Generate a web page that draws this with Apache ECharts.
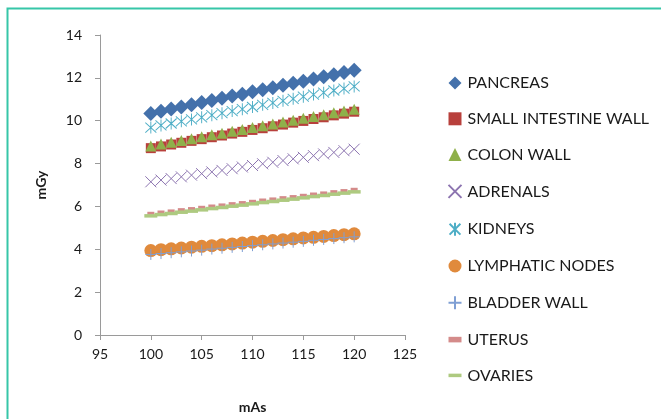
<!DOCTYPE html>
<html>
<head>
<meta charset="utf-8">
<script src="https://cdn.jsdelivr.net/npm/echarts@6/dist/echarts.min.js"></script>
<style>
  html, body { margin: 0; padding: 0; background: #ffffff; }
  #chart { width: 661px; height: 419px; }
</style>
</head>
<body>
<div id="chart"></div>
<script>
// Tube current-time product (mAs)
const mAs = [100,101,102,103,104,105,106,107,108,109,110,111,112,113,114,115,116,117,118,119,120];

// Organ doses (mGy)
const pancreas = [10.34,10.44,10.55,10.64,10.75,10.85,10.94,11.05,11.15,11.24,11.35,11.45,11.54,11.65,11.75,11.84,11.95,12.05,12.14,12.25,12.36];
const smallIntestineWall = [8.72,8.80,8.89,8.97,9.06,9.14,9.23,9.31,9.40,9.48,9.57,9.65,9.74,9.82,9.91,9.99,10.08,10.16,10.25,10.33,10.42];
const colonWall = [8.82,8.91,8.99,9.08,9.16,9.25,9.34,9.42,9.51,9.59,9.68,9.77,9.85,9.94,10.02,10.11,10.20,10.28,10.37,10.45,10.54];
const adrenals = [7.15,7.23,7.30,7.38,7.46,7.53,7.61,7.68,7.76,7.84,7.91,7.99,8.06,8.14,8.22,8.29,8.37,8.45,8.52,8.60,8.67];
const kidneys = [9.68,9.78,9.87,9.97,10.06,10.16,10.26,10.35,10.45,10.54,10.64,10.74,10.83,10.93,11.02,11.12,11.22,11.31,11.41,11.50,11.60];
const lymphaticNodes = [3.94,3.98,4.02,4.06,4.10,4.14,4.17,4.21,4.25,4.29,4.33,4.37,4.41,4.45,4.49,4.53,4.56,4.60,4.64,4.68,4.72];
const bladderWall = [3.76,3.80,3.84,3.88,3.92,3.96,4.01,4.05,4.09,4.13,4.17,4.21,4.25,4.29,4.33,4.37,4.42,4.46,4.50,4.54,4.58];
const uterus = [5.68,5.74,5.79,5.85,5.90,5.96,6.02,6.07,6.13,6.18,6.24,6.30,6.35,6.41,6.46,6.52,6.58,6.63,6.69,6.74,6.80];
const ovaries = [5.56,5.62,5.67,5.73,5.78,5.84,5.90,5.95,6.01,6.06,6.12,6.18,6.23,6.29,6.34,6.40,6.46,6.51,6.57,6.62,6.68];

const seriesNames = ['PANCREAS','SMALL INTESTINE WALL','COLON WALL','ADRENALS','KIDNEYS','LYMPHATIC NODES','BLADDER WALL','UTERUS','OVARIES'];

const pair = (ys) => mAs.map((x, i) => [x, ys[i]]);

const FONT = 'Lato, "Liberation Sans", sans-serif';

// Marker shapes
const crossPath = 'path://M0,0L10,10M10,0L0,10';
const starPath = 'path://M0,0L10,10M10,0L0,10M5,-1L5,11';
const plusPath = 'path://M0,5L10,5M5,0L5,10';
const shortDash = 'path://M0,0L7,0L7,3L0,3Z';
const longDash = 'path://M0,0L13,0L13,3.5L0,3.5Z';

const colors = ['#4471ab','#b8403c','#8fb04a','#8c74b0','#4eaec6','#e08a3c','#7f9fd4','#d48b8a','#aeca80'];

function filled(i, ys, symbol, size) {
  return {
    name: seriesNames[i], type: 'scatter', data: pair(ys), symbol, symbolSize: size,
    itemStyle: { color: colors[i], opacity: 1 },
    emphasis: { disabled: true }
  };
}
function stroked(i, ys, symbol, size) {
  return {
    name: seriesNames[i], type: 'scatter', data: pair(ys), symbol, symbolSize: size,
    itemStyle: { color: 'none', borderColor: colors[i], borderWidth: 1, opacity: 1 },
    emphasis: { disabled: true }
  };
}

const series = [
  filled(0, pancreas, 'diamond', [15, 15]),
  filled(1, smallIntestineWall, 'rect', [10, 10]),
  filled(2, colonWall, 'triangle', [11, 11]),
  stroked(3, adrenals, crossPath, [11, 11]),
  stroked(4, kidneys, starPath, [11, 12]),
  filled(5, lymphaticNodes, 'circle', [13, 13]),
  stroked(6, bladderWall, plusPath, [11, 11]),
  filled(7, uterus, 'rect', [7, 3]),
  filled(8, ovaries, 'rect', [13, 3.5])
];

// Legend icons (dash markers keep their flat shape)
const legendIcons = ['diamond', 'rect', 'triangle', crossPath, starPath, 'circle', plusPath, shortDash, longDash];
const legendData = seriesNames.map((n, i) => ({ name: n, icon: legendIcons[i] }));

const chart = echarts.init(document.getElementById('chart'), null, { renderer: 'canvas' });

chart.setOption({
  animation: false,
  backgroundColor: '#ffffff',
  graphic: [{
    type: 'rect',
    shape: { x: 7.5, y: 8.5, width: 720, height: 500 },
    style: { fill: 'none', stroke: '#36c6a8', lineWidth: 2 },
    silent: true
  }],
  grid: { left: 100, right: 256, top: 35, bottom: 82 },
  xAxis: {
    type: 'value', min: 95, max: 125, interval: 5,
    name: 'mAs', nameLocation: 'middle', nameGap: 65,
    nameTextStyle: { fontFamily: FONT, fontSize: 14, fontWeight: 'bold', color: '#1a1a1a' },
    axisLine: { show: true, lineStyle: { color: '#9a9a9a', width: 1 } },
    axisTick: { show: true, inside: false, length: 5, lineStyle: { color: '#9a9a9a' } },
    axisLabel: { fontFamily: FONT, fontSize: 14, color: '#1a1a1a', margin: 12 },
    splitLine: { show: false }
  },
  yAxis: {
    type: 'value', min: 0, max: 14, interval: 2,
    name: 'mGy', nameLocation: 'middle', nameGap: 52, nameRotate: 90,
    nameTextStyle: { fontFamily: FONT, fontSize: 14, fontWeight: 'bold', color: '#1a1a1a' },
    axisLine: { show: true, lineStyle: { color: '#9a9a9a', width: 1 } },
    axisTick: { show: true, inside: false, length: 5, lineStyle: { color: '#9a9a9a' } },
    axisLabel: { fontFamily: FONT, fontSize: 14, color: '#1a1a1a', margin: 18 },
    splitLine: { show: false }
  },
  legend: {
    orient: 'vertical', left: 441, top: 70,
    itemWidth: 13, itemHeight: 13, itemGap: 19.8,
    symbolKeepAspect: true,
    textStyle: { fontFamily: FONT, fontSize: 16, lineHeight: 16, color: '#1a1a1a', padding: [0, 0, 0, 1] },
    data: legendData,
    selectedMode: false
  },
  series: series
});
</script>
</body>
</html>
